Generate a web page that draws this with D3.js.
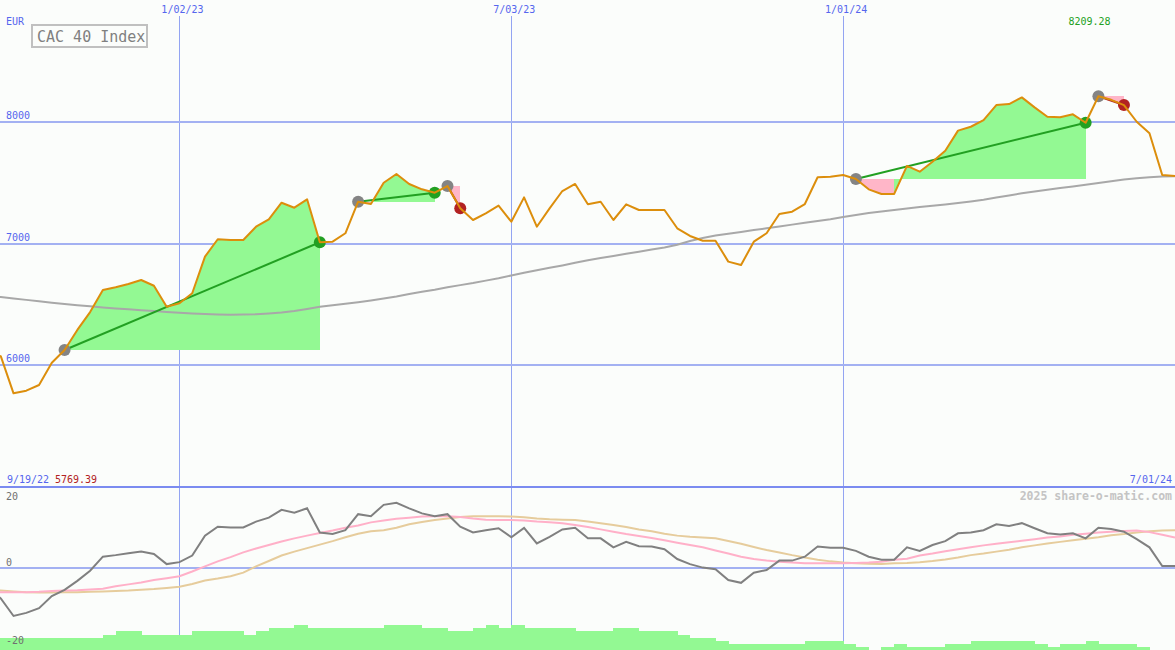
<!DOCTYPE html>
<html>
<head>
<meta charset="utf-8">
<script src="https://cdn.jsdelivr.net/npm/d3@7"></script>
<style>
  html, body { margin: 0; padding: 0; background: #fbfdfb; }
  svg { display: block; }
  text { font-family: "DejaVu Sans Mono", "Liberation Mono", monospace; }
</style>
</head>
<body>
<svg id="chart" width="1175" height="650"></svg>
<script>
// ---------------- DATA ----------------
const startDate = "2022-09-19";
const endDate = "2024-07-01";
const dateTicks = ["2023-01-02", "2023-07-03", "2024-01-01"];
const priceTicks = [6000, 7000, 8000];
const oscTicks = [20, 0, -20];
const indexName = "CAC 40 Index";
const currency = "EUR";
const watermark = "2025 share-o-matic.com";

// weekly closes
const price = [
  6090, 6075, 5769.39, 5791, 5838, 6021, 6125, 6290, 6437, 6618,
  6640, 6667, 6700, 6653, 6481, 6509, 6591, 6892, 7035, 7029,
  7029, 7138, 7199, 7335, 7294, 7363, 7010, 7015, 7084, 7343,
  7324, 7499, 7571, 7489, 7445, 7417, 7472, 7289, 7193, 7248,
  7311, 7179, 7379, 7138, 7289, 7431, 7489, 7322, 7343, 7193,
  7322, 7275, 7275, 7275, 7125, 7062, 7023, 7023, 6851, 6823,
  7015, 7084, 7242, 7261, 7324, 7544, 7549, 7563, 7530, 7445,
  7407, 7407, 7637, 7590, 7672, 7762, 7927, 7959, 8014, 8137,
  8145, 8200, 8118, 8041, 8037, 8061, 7992, 8209.28, 8180, 8137,
  8000, 7905, 7563, 7555
];
// long moving average
const movingAvg = [
  6570, 6560, 6548, 6537, 6525, 6514, 6503, 6493, 6484, 6475,
  6467, 6459, 6452, 6445, 6438, 6432, 6426, 6421, 6417, 6415,
  6416, 6419, 6425, 6433, 6445, 6462, 6480, 6493, 6505, 6518,
  6532, 6548, 6565, 6585, 6603, 6620, 6640, 6658, 6675, 6695,
  6715, 6738, 6760, 6780, 6800, 6820, 6842, 6862, 6880, 6898,
  6915, 6933, 6950, 6968, 6990, 7020, 7045, 7065, 7080, 7095,
  7110, 7125, 7140, 7155, 7170, 7185, 7200, 7218, 7235, 7250,
  7262, 7275, 7288, 7300, 7310, 7320, 7332, 7345, 7360, 7378,
  7395, 7412, 7428, 7442, 7455, 7468, 7482, 7497, 7512, 7525,
  7535, 7545, 7550, 7553
];
// trend annotations: [start index, end index]
const trendStart = [6, 29, 36, 68, 87];
const trendEnd = [26, 35, 37, 86, 89];

// lower panel: oscillator and its two smoothings
const oscillator = [
  -5.0, -7.8, -12.3, -11.5, -10.3, -7.2, -5.6, -3.3, -0.7, 2.9,
  3.3, 3.8, 4.2, 3.6, 1.0, 1.5, 3.2, 8.3, 10.6, 10.4,
  10.4, 11.9, 12.9, 14.9, 14.2, 15.3, 9.1, 8.7, 9.7, 13.8,
  13.3, 16.2, 16.7, 15.3, 14.0, 13.3, 13.8, 10.6, 9.1, 9.7,
  10.2, 7.9, 10.3, 6.3, 8.0, 9.9, 10.3, 7.6, 7.6, 5.3,
  6.7, 5.6, 5.5, 4.8, 2.3, 1.0, 0.1, -0.3, -3.1, -3.8,
  -1.2, -0.5, 1.9, 1.9, 2.9, 5.5, 5.2, 5.2, 4.4, 2.9,
  2.1, 2.1, 5.3, 4.4, 5.9, 6.9, 8.9, 9.1, 9.7, 11.2,
  10.8, 11.5, 10.2, 8.9, 8.6, 8.9, 7.6, 10.3, 10.0, 9.3,
  7.4, 5.3, 0.5, 0.5
];
const oscFast = [
  -6.3, -6.2, -6.2, -6.2, -6.1, -5.9, -5.8, -5.7, -5.5, -5.3,
  -4.7, -4.2, -3.7, -3.1, -2.6, -2.1, -0.9, 0.4, 1.7, 2.8,
  4.0, 5.0, 5.9, 6.8, 7.6, 8.3, 9.0, 9.6, 10.3, 10.9,
  11.7, 12.2, 12.6, 12.9, 13.2, 13.3, 13.3, 13.1, 12.7, 12.4,
  12.3, 12.3, 12.2, 11.9, 11.7, 11.5, 11.0, 10.5, 9.9, 9.3,
  8.7, 8.2, 7.7, 7.1, 6.5, 5.9, 5.3, 4.5, 3.7, 2.9,
  2.3, 1.9, 1.6, 1.4, 1.2, 1.2, 1.2, 1.2, 1.3, 1.4,
  1.6, 2.1, 2.4, 3.2, 3.7, 4.3, 4.8, 5.3, 5.8, 6.2,
  6.6, 7.0, 7.4, 7.8, 8.1, 8.5, 8.8, 9.1, 9.3, 9.5,
  9.6, 9.2, 8.5, 7.8
];
const oscSlow = [
  -5.8, -5.8, -6.0, -6.2, -6.3, -6.3, -6.2, -6.2, -6.1, -6.0,
  -5.9, -5.8, -5.6, -5.4, -5.1, -4.8, -4.1, -3.2, -2.7, -2.1,
  -1.2, 0.4, 1.8, 3.2, 4.2, 5.1, 6.0, 6.9, 7.9, 8.8,
  9.4, 9.7, 10.3, 11.2, 11.8, 12.3, 12.7, 13.1, 13.3, 13.3,
  13.3, 13.2, 13.0, 12.7, 12.5, 12.4, 12.3, 11.9, 11.5, 11.0,
  10.5, 9.9, 9.4, 8.8, 8.3, 8.0, 7.8, 7.6, 6.9, 6.2,
  5.4, 4.6, 4.0, 3.3, 2.7, 2.1, 1.7, 1.4, 1.2, 1.1,
  1.0, 1.2, 1.3, 1.5, 1.8, 2.2, 2.7, 3.3, 3.7, 4.2,
  4.7, 5.3, 5.8, 6.3, 6.7, 7.1, 7.5, 7.9, 8.4, 8.7,
  9.1, 9.4, 9.6, 9.7
];
// weekly activity bars (level)
const activity = [
  4, 4, 4, 4, 4, 4, 4, 4, 4, 5,
  6, 6, 5, 5, 5, 5, 6, 6, 6, 6,
  5, 6, 7, 7, 8, 7, 7, 7, 7, 7,
  7, 8, 8, 8, 7, 7, 6, 6, 7, 8,
  7, 8, 7, 7, 7, 7, 6, 6, 6, 7,
  7, 6, 6, 6, 5, 4, 4, 3, 2, 2,
  2, 2, 2, 2, 3, 3, 3, 2, 1, 0,
  1, 2, 1, 1, 1, 2, 2, 3, 3, 3,
  3, 3, 2, 1, 2, 2, 3, 2, 2, 2,
  1, 0, 0, 0
];

// ---------------- CHART ----------------
const W = 1175, H = 650;
const svg = d3.select("#chart");
const parse = d3.utcParse("%Y-%m-%d");
const fmtDate = d3.utcFormat("%-m/%d/%y");
const weeks = d3.utcMonday.range(parse(startDate), d3.utcDay.offset(parse(endDate), 1));

const x = d3.scaleUtc().domain([parse(startDate), parse(endDate)]).range([-12, W]);
const y = d3.scaleLinear().domain([5000, 9000]).range([487, 0]);
const yOsc = d3.scaleLinear().domain([-20, 20]).range([646, 490]);
const yAct = d3.scaleLinear().domain([0, 8]).range([650, 625.2]);

const C = {
  grid: "#a3b1f2", vgrid: "#93a4f2", sep: "#7b8bf0", axisText: "#5566ee",
  price: "#dc8e0c", ma: "#a8a8a8", fillUp: "#93f993", fillDn: "#ffb6c8",
  trendUp: "#22a022", trendDn: "#b22222", markStart: "#848484",
  oscLine: "#808080", oscFast: "#ffb0c8", oscSlow: "#e6cc9c"
};

svg.append("rect").attr("width", W).attr("height", H).attr("fill", "#fbfdfb");

const main = svg.append("g");
const lower = svg.append("g");

// vertical date gridlines
dateTicks.forEach(t => {
  const xx = Math.round(x(parse(t)));
  main.append("rect").attr("x", xx).attr("width", 1).attr("y", 16).attr("height", 471)
    .attr("fill", C.vgrid).attr("shape-rendering", "crispEdges");
  lower.append("rect").attr("x", xx).attr("width", 1).attr("y", 488).attr("height", 162)
    .attr("fill", C.vgrid).attr("shape-rendering", "crispEdges");
  main.append("text").attr("x", x(parse(t)) + 3).attr("y", 13).attr("text-anchor", "middle")
    .attr("font-size", 10).attr("fill", C.axisText).text(fmtDate(parse(t)));
});

// horizontal price gridlines
priceTicks.forEach(v => {
  main.append("line").attr("x1", 0).attr("x2", W).attr("y1", y(v)).attr("y2", y(v))
    .attr("stroke", C.grid).attr("stroke-width", 2).attr("shape-rendering", "crispEdges");
  main.append("text").attr("x", 6).attr("y", y(v) - 3).attr("font-size", 10)
    .attr("fill", C.axisText).text(v);
});

// trend fills
const poly = d3.line();
trendStart.forEach((s, k) => {
  const e = trendEnd[k];
  const base = price[s];
  for (let i = s; i < e; i++) {
    const pts = [
      [x(weeks[i]), y(base)], [x(weeks[i]), y(price[i])],
      [x(weeks[i + 1]), y(price[i + 1])], [x(weeks[i + 1]), y(base)]
    ];
    main.append("path").attr("d", poly(pts) + "Z")
      .attr("fill", price[i + 1] >= base ? C.fillUp : C.fillDn)
      .attr("shape-rendering", "crispEdges");
  }
});

// moving average
const lineMain = d3.line().x((d, i) => x(weeks[i])).y(d => y(d));
main.append("path").attr("d", lineMain(movingAvg)).attr("fill", "none")
  .attr("stroke", C.ma).attr("stroke-width", 2);

// trend lines
trendStart.forEach((s, k) => {
  const e = trendEnd[k];
  const up = price[e] >= price[s];
  main.append("line")
    .attr("x1", x(weeks[s])).attr("y1", y(price[s]))
    .attr("x2", x(weeks[e])).attr("y2", y(price[e]))
    .attr("stroke", up ? C.trendUp : C.trendDn).attr("stroke-width", 2);
});
// markers
trendStart.forEach((s, k) => {
  const e = trendEnd[k];
  const up = price[e] >= price[s];
  main.append("circle").attr("cx", x(weeks[s])).attr("cy", y(price[s])).attr("r", 6)
    .attr("fill", C.markStart);
  main.append("circle").attr("cx", x(weeks[e])).attr("cy", y(price[e])).attr("r", 6)
    .attr("fill", up ? C.trendUp : C.trendDn);
});

// price line
main.append("path").attr("d", lineMain(price)).attr("fill", "none")
  .attr("stroke", C.price).attr("stroke-width", 2).attr("stroke-linejoin", "round");

// labels in main panel
main.append("text").attr("x", 6).attr("y", 25).attr("font-size", 10)
  .attr("fill", C.axisText).text(currency);
main.append("rect").attr("x", 32).attr("y", 25).attr("width", 115).attr("height", 22)
  .attr("fill", "none").attr("stroke", "#c0c0c0").attr("stroke-width", 2)
  .attr("shape-rendering", "crispEdges");
main.append("text").attr("x", 37).attr("y", 42).attr("font-size", 15)
  .attr("fill", "#808080").text(indexName);

const maxI = d3.maxIndex(price), minI = d3.minIndex(price);
main.append("text").attr("x", x(weeks[maxI]) - 30).attr("y", 25).attr("font-size", 10)
  .attr("fill", C.trendUp).text(d3.format(".2f")(price[maxI]));

main.append("text").attr("x", 7).attr("y", 483).attr("font-size", 10)
  .attr("fill", C.axisText).text(fmtDate(parse(startDate)));
main.append("text").attr("x", 55).attr("y", 483).attr("font-size", 10)
  .attr("fill", C.trendDn).text(d3.format(".2f")(price[minI]));
main.append("text").attr("x", 1172).attr("y", 483).attr("font-size", 10).attr("text-anchor", "end")
  .attr("fill", C.axisText).text(fmtDate(parse(endDate)));

// separator
svg.append("line").attr("x1", 0).attr("x2", W).attr("y1", 487).attr("y2", 487)
  .attr("stroke", C.sep).attr("stroke-width", 2).attr("shape-rendering", "crispEdges");

// ---------- lower panel ----------
lower.append("line").attr("x1", 0).attr("x2", W).attr("y1", yOsc(0)).attr("y2", yOsc(0))
  .attr("stroke", C.grid).attr("stroke-width", 2).attr("shape-rendering", "crispEdges");

lower.selectAll("rect.act").data(activity.slice(0, -1)).join("rect")
  .attr("class", "act")
  .attr("x", (d, i) => x(weeks[i]))
  .attr("width", (d, i) => x(weeks[i + 1]) - x(weeks[i]) + 0.5)
  .attr("y", d => yAct(d))
  .attr("height", d => yAct(0) - yAct(d))
  .attr("fill", C.fillUp).attr("shape-rendering", "crispEdges");

const lineOsc = d3.line().x((d, i) => x(weeks[i])).y(d => yOsc(d));
lower.append("path").attr("d", lineOsc(oscSlow)).attr("fill", "none")
  .attr("stroke", C.oscSlow).attr("stroke-width", 2);
lower.append("path").attr("d", lineOsc(oscFast)).attr("fill", "none")
  .attr("stroke", C.oscFast).attr("stroke-width", 2);
lower.append("path").attr("d", lineOsc(oscillator)).attr("fill", "none")
  .attr("stroke", C.oscLine).attr("stroke-width", 2);

oscTicks.forEach(v => {
  const yy = v === 20 ? 500 : yOsc(v) - 2;
  lower.append("text").attr("x", 6).attr("y", yy).attr("font-size", 10)
    .attr("fill", "#707070").text(v);
});

lower.append("text").attr("x", 1172).attr("y", 500).attr("text-anchor", "end")
  .attr("font-size", 11.5).attr("font-weight", "bold").attr("fill", "#c4c4c4").text(watermark);
</script>
</body>
</html>
